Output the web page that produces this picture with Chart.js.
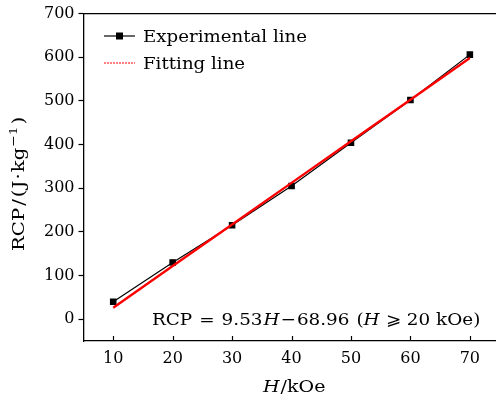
<!DOCTYPE html>
<html>
<head>
<meta charset="utf-8">
<script src="https://cdn.jsdelivr.net/npm/chart.js@4"></script>
<style>
  html, body { margin: 0; padding: 0; background: #fff; }
  #box { width: 496px; height: 403px; }
</style>
</head>
<body>
<div id="box"><canvas id="rcpChart"></canvas></div>
<script>
const fieldH = [10, 20, 30, 40, 50, 60, 70];
const rcpMeasured = [40, 130, 215, 305, 404, 502, 606];
// RCP = 9.53H - 68.96 at the same fields
const rcpFitted = [26.34, 121.64, 216.94, 312.24, 407.54, 502.84, 598.14];
const hTicks = [10, 20, 30, 40, 50, 60, 70];
const rcpTicks = [0, 100, 200, 300, 400, 500, 600, 700];

const serif = "'DejaVu Serif', 'Liberation Serif', serif";

function pontos(xs, ys) {
  return xs.map((x, i) => ({ x: x, y: ys[i] }));
}

// one piece of text, stretched sideways by fator
function escreve(ctx, texto, x, y, tamanho, italico, fator) {
  ctx.save();
  ctx.font = (italico ? "italic " : "") + tamanho + "px " + serif;
  ctx.translate(x, y);
  ctx.scale(fator || 1, 1);
  ctx.fillText(texto, 0, 0);
  const w = ctx.measureText(texto).width * (fator || 1);
  ctx.restore();
  return x + w;
}

// pieces one after another: {t, it, gap, sup}
function escreveLinha(ctx, trechos, x, y, tamanho, fator) {
  trechos.forEach((p) => {
    x += p.gap || 0;
    if (p.sup) {
      x = escreve(ctx, p.t, x, y - 7, tamanho * 0.7, false, fator);
    } else {
      x = escreve(ctx, p.t, x, y, tamanho, p.it, fator);
    }
  });
  return x;
}

const extras = {
  id: "extras",
  afterDraw(chart) {
    const ctx = chart.ctx;
    const area = chart.chartArea;
    const sx = chart.scales.x;
    ctx.save();
    ctx.strokeStyle = "#000";
    ctx.fillStyle = "#000";
    ctx.lineWidth = 1.3;

    // top frame line
    ctx.beginPath();
    ctx.moveTo(area.left, area.top);
    ctx.lineTo(area.right, area.top);
    ctx.stroke();

    // x ticks point inward
    ctx.lineWidth = 1.2;
    hTicks.forEach((v) => {
      const px = Math.round(sx.getPixelForValue(v)) + 0.5;
      ctx.beginPath();
      ctx.moveTo(px, area.bottom);
      ctx.lineTo(px, area.bottom - 5);
      ctx.stroke();
    });

    // legend
    ctx.lineWidth = 1.2;
    ctx.beginPath();
    ctx.moveTo(104, 36);
    ctx.lineTo(135, 36);
    ctx.stroke();
    ctx.fillRect(116, 32.5, 7, 7);
    ctx.strokeStyle = "#ff0000";
    ctx.lineWidth = 1;
    ctx.setLineDash([2, 1]);
    ctx.beginPath();
    ctx.moveTo(104, 63);
    ctx.lineTo(135, 63);
    ctx.stroke();
    ctx.setLineDash([]);
    escreve(ctx, "Experimental line", 143, 42, 17, false, 1.07);
    escreve(ctx, "Fitting line", 143, 69, 17, false, 1.07);

    // fit equation
    escreveLinha(ctx, [
      { t: "RCP" },
      { t: "=", gap: 7 },
      { t: "9.53", gap: 7 },
      { t: "H", it: true, gap: 1 },
      { t: "\u2212", gap: 1 },
      { t: "68.96", gap: 1 },
      { t: "(", gap: 7 },
      { t: "H", it: true },
      { t: "\u2A7E", gap: 6 },
      { t: "20", gap: 6 },
      { t: "kOe)", gap: 6 }
    ], 152, 325, 17, 1.08);

    // x title
    escreveLinha(ctx, [
      { t: "H", it: true },
      { t: "/kOe", gap: 1 }
    ], 263, 392, 17, 1.12);

    // y title, rotated
    ctx.translate(24, 251);
    ctx.rotate(-Math.PI / 2);
    escreveLinha(ctx, [
      { t: "RCP" },
      { t: "/", gap: 2 },
      { t: "(", gap: 2 },
      { t: "J", gap: 1 },
      { t: "\u00B7", gap: 1 },
      { t: "kg", gap: 1 },
      { t: "\u22121", sup: true, gap: 1 },
      { t: ")", gap: 2 }
    ], 0, 0, 17, 1.16);
    ctx.restore();
  }
};

const grafico = new Chart(document.getElementById("rcpChart"), {
  type: "line",
  data: {
    datasets: [
      {
        label: "Fitting line",
        data: pontos(fieldH, rcpFitted),
        borderColor: "#ff0000",
        borderWidth: 2.4,
        pointRadius: 0,
        order: 1
      },
      {
        label: "Experimental line",
        data: pontos(fieldH, rcpMeasured),
        borderColor: "#000",
        borderWidth: 1.2,
        pointStyle: "rect",
        pointRadius: 3.8,
        pointBackgroundColor: "#000",
        pointBorderColor: "#000",
        order: 2
      }
    ]
  },
  options: {
    responsive: true,
    maintainAspectRatio: false,
    animation: false,
    layout: { autoPadding: false, padding: { top: 13, right: 0, left: 0, bottom: 0 } },
    plugins: {
      legend: { display: false },
      tooltip: { enabled: false }
    },
    scales: {
      x: {
        type: "linear",
        min: 5,
        max: 74.4,
        afterBuildTicks: (s) => { s.ticks = hTicks.map((v) => ({ value: v })); },
        afterFit: (s) => { s.height = 62; },
        grid: { display: false, drawTicks: false },
        border: { color: "#000", width: 1.3 },
        ticks: { color: "#000", padding: 8, font: { family: serif, size: 16 } }
      },
      y: {
        min: -50,
        max: 700,
        afterBuildTicks: (s) => { s.ticks = rcpTicks.map((v) => ({ value: v })); },
        afterFit: (s) => { s.width = 83.5; },
        grid: { drawOnChartArea: false, tickLength: 5, tickColor: "#000", tickWidth: 1.2 },
        border: { color: "#000", width: 1.3 },
        ticks: { color: "#000", padding: 4, font: { family: serif, size: 16 } }
      }
    }
  },
  plugins: [extras]
});
</script>
</body>
</html>
